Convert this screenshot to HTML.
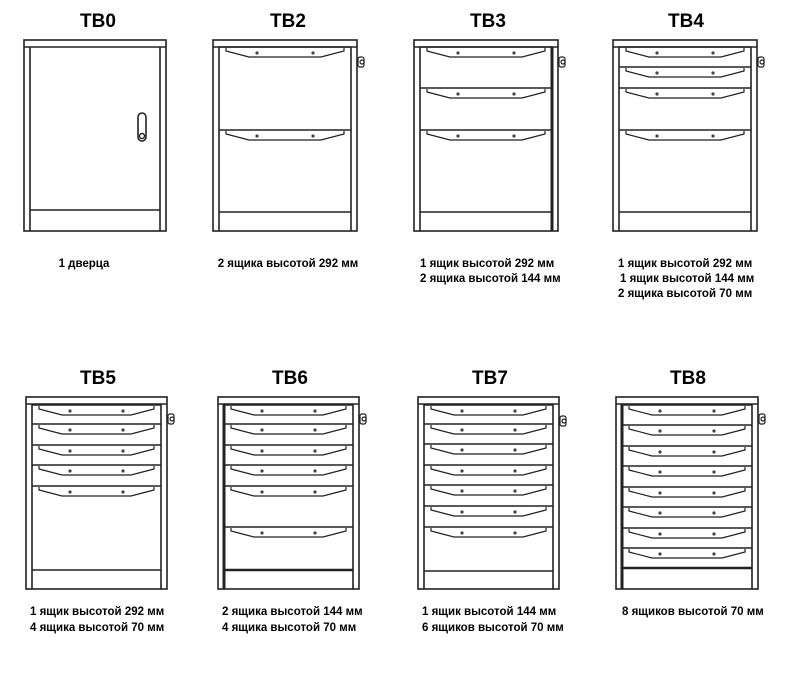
<!DOCTYPE html>
<html><head><meta charset="utf-8"><style>
html,body{margin:0;padding:0;background:#fff;width:800px;height:678px;overflow:hidden}
svg{display:block}
text{font-family:"Liberation Sans",Arial,sans-serif;font-weight:bold;fill:#000}
.t{font-size:19px}
.l{font-size:11.5px}
</style></head><body>
<svg id="s" width="800" height="678" viewBox="0 0 800 678" xmlns="http://www.w3.org/2000/svg">
<g id="g" fill="none" stroke="#222" stroke-width="1.6"></g>
<text class="t" x="98" y="27" text-anchor="middle">TB0</text>
<text class="t" x="288" y="27" text-anchor="middle">TB2</text>
<text class="t" x="488" y="27" text-anchor="middle">TB3</text>
<text class="t" x="686" y="27" text-anchor="middle">TB4</text>
<text class="t" x="98" y="384" text-anchor="middle">TB5</text>
<text class="t" x="290" y="384" text-anchor="middle">TB6</text>
<text class="t" x="490" y="384" text-anchor="middle">TB7</text>
<text class="t" x="688" y="384" text-anchor="middle">TB8</text>
<text class="l" x="84" y="267" text-anchor="middle">1 дверца</text>
<text class="l" x="288" y="267" text-anchor="middle">2 ящика высотой 292 мм</text>
<text class="l" x="420" y="267">1 ящик высотой 292 мм</text>
<text class="l" x="420" y="282">2 ящика высотой 144 мм</text>
<text class="l" x="618" y="267">1 ящик высотой 292 мм</text>
<text class="l" x="620" y="282">1 ящик высотой 144 мм</text>
<text class="l" x="618" y="297">2 ящика высотой 70 мм</text>
<text class="l" x="30" y="615">1 ящик высотой 292 мм</text>
<text class="l" x="30" y="631">4 ящика высотой 70 мм</text>
<text class="l" x="222" y="615">2 ящика высотой 144 мм</text>
<text class="l" x="222" y="631">4 ящика высотой 70 мм</text>
<text class="l" x="422" y="615">1 ящик высотой 144 мм</text>
<text class="l" x="422" y="631">6 ящиков высотой 70 мм</text>
<text class="l" x="622" y="615">8 ящиков высотой 70 мм</text>
</svg>
<script>
var g=document.getElementById('g'),h='';
function cab(x,y,w,bot,dr,plinth,thick,lock,door,thickR){
 var w2=x+w;
 h+='<rect x="'+x+'" y="'+y+'" width="'+w+'" height="'+(bot-y)+'"/>';
 h+='<line x1="'+x+'" y1="'+(y+7)+'" x2="'+w2+'" y2="'+(y+7)+'"/>';
 h+='<line x1="'+(x+6)+'" y1="'+(y+7)+'" x2="'+(x+6)+'" y2="'+bot+'"'+(thick?' stroke-width="3"':'')+'/>';
 h+='<line x1="'+(w2-6)+'" y1="'+(y+7)+'" x2="'+(w2-6)+'" y2="'+bot+'"'+(thickR?' stroke-width="3"':'')+'/>';
 h+='<line x1="'+(x+6)+'" y1="'+plinth+'" x2="'+(w2-6)+'" y2="'+plinth+'"'+(thick?' stroke-width="2.6"':'')+'/>';
 dr.forEach(function(d){
  h+='<line x1="'+(x+6)+'" y1="'+d+'" x2="'+(w2-6)+'" y2="'+d+'"/>';
  h+='<polyline stroke-width="1.2" points="'+(x+13)+','+(d+1)+' '+(x+13)+','+(d+4)+' '+(x+36)+','+(d+10)+' '+(w2-36)+','+(d+10)+' '+(w2-13)+','+(d+4)+' '+(w2-13)+','+(d+1)+'"/>';
  h+='<circle cx="'+(x+44)+'" cy="'+(d+6)+'" r="1.6" fill="#444" stroke="none"/><circle cx="'+(w2-44)+'" cy="'+(d+6)+'" r="1.6" fill="#444" stroke="none"/>';
 });
 if(lock) h+='<rect x="'+(w2+1)+'" y="'+lock+'" width="6" height="10" rx="2" stroke-width="1.2"/><circle cx="'+(w2+5)+'" cy="'+(lock+5)+'" r="2" stroke-width="1.2"/>';
 if(door) h+='<rect x="'+(w2-28)+'" y="'+(y+73)+'" width="8" height="28" rx="4" stroke-width="1.6"/><circle cx="'+(w2-24)+'" cy="'+(y+96)+'" r="2.5" stroke-width="1.4"/>';
}
cab(24,40,142,231,[],210,false,0,true);
cab(213,40,144,231,[47,130],212,false,57,false);
cab(414,40,144,231,[47,88,130],212,false,57,false,true);
cab(613,40,144,231,[47,67,88,130],212,false,57,false);
cab(26,397,141,589,[405,424,445,465,486],570,false,414,false);
cab(218,397,141,589,[405,424,445,465,486,527],570,true,414,false);
cab(418,397,141,589,[405,424,444,465,485,506,527],571,false,416,false);
cab(616,397,142,589,[405,425,446,466,487,507,528,548],568,true,414,false);
g.innerHTML=h;
</script>
</body></html>
